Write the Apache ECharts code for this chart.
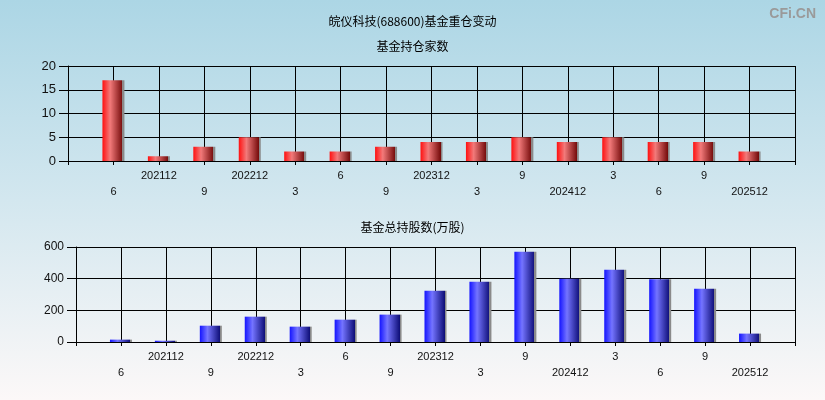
<!DOCTYPE html>
<html>
<head>
<meta charset="utf-8">
<script src="https://cdn.jsdelivr.net/npm/echarts@6/dist/echarts.min.js"></script>
<style>
html,body{margin:0;padding:0;}
#c{width:825px;height:400px;}
</style>
</head>
<body>
<div id="c"></div>
<script>
var tickLabels = ['6','202112','9','202212','3','6','9','202312','3','9','202412','3','6','9','202512'];
var fundCount = [17, 1, 3, 5, 2, 2, 3, 4, 4, 5, 4, 5, 4, 4, 2];
var fundShares = [15, 8, 103, 160, 97, 141, 173, 324, 381, 570, 400, 457, 396, 337, 53];
var countTicks = [0, 5, 10, 15, 20];
var shareTicks = [0, 200, 400, 600];

var cats = [''].concat(tickLabels).concat(['']);
function pad(arr){ return ['-'].concat(arr).concat(['-']); }

var chart = echarts.init(document.getElementById('c'));
function grad(a,b,c){
  return new echarts.graphic.LinearGradient(0,0,1,0,[
    {offset:0,color:a},{offset:0.35,color:b},{offset:0.91,color:c},
    {offset:0.91,color:'#8a8a8a'},{offset:1,color:'#8a8a8a'}]);
}
function xAxis(idx){
  return {
    type:'category', gridIndex:idx, data:cats, boundaryGap:false,
    axisLine:{lineStyle:{color:'#000',width:1}},
    axisTick:{length:4, interval:0, lineStyle:{color:'#000'}},
    splitLine:{show:true, interval:0, lineStyle:{color:'#000',width:1}},
    axisLabel:{interval:0, color:'#111', fontSize:11, fontFamily:'Arial', margin:7, lineHeight:16,
      formatter:function(v,i){ return (i%2===1) ? '\n'+v : v; }}
  };
}
function yAxis(idx,max,interval,fs){
  return {
    type:'value', gridIndex:idx, min:0, max:max, interval:interval,
    axisLine:{show:true,lineStyle:{color:'#000'}},
    axisTick:{show:true,length:9,lineStyle:{color:'#000'}},
    splitLine:{lineStyle:{color:'#000',width:1}},
    axisLabel:{color:'#111', fontSize:fs, fontFamily:'Arial', margin:12}
  };
}
chart.setOption({
  animation:false,
  backgroundColor:new echarts.graphic.LinearGradient(0,0,0,1,[
    {offset:0,color:'#acd6e5'},{offset:0.5,color:'#d3e7ef'},{offset:1,color:'#fcf8f8'}]),
  title:[
    {text:'皖仪科技(688600)基金重仓变动', left:'center', top:10, textStyle:{fontSize:12,fontWeight:'normal',color:'#000',fontFamily:'Noto Sans CJK SC'}},
    {text:'基金持仓家数', left:'center', top:35, textStyle:{fontSize:12,fontWeight:'normal',color:'#000',fontFamily:'Noto Sans CJK SC'}},
    {text:'基金总持股数(万股)', left:'center', top:216, textStyle:{fontSize:12,fontWeight:'normal',color:'#000',fontFamily:'Noto Sans CJK SC'}},
    {text:'CFi.CN', right:4, top:2, textStyle:{fontSize:14,fontWeight:'bold',color:'#9a9a9a',fontFamily:'Arial'}}
  ],
  grid:[
    {left:68, right:30, top:66, height:95},
    {left:76, right:30, top:247, height:95}
  ],
  xAxis:[xAxis(0), xAxis(1)],
  yAxis:[yAxis(0,countTicks[countTicks.length-1],countTicks[1]-countTicks[0],13), yAxis(1,shareTicks[shareTicks.length-1],shareTicks[1]-shareTicks[0],12)],
  series:[
    {type:'bar', xAxisIndex:0, yAxisIndex:0, data:pad(fundCount), barWidth:22,
      itemStyle:{color:grad('#ff1010','#f27a7a','#760c0c')}},
    {type:'bar', xAxisIndex:1, yAxisIndex:1, data:pad(fundShares), barWidth:22,
      itemStyle:{color:grad('#1414ff','#7474ff','#10107a')}}
  ]
});
</script>
</body>
</html>
